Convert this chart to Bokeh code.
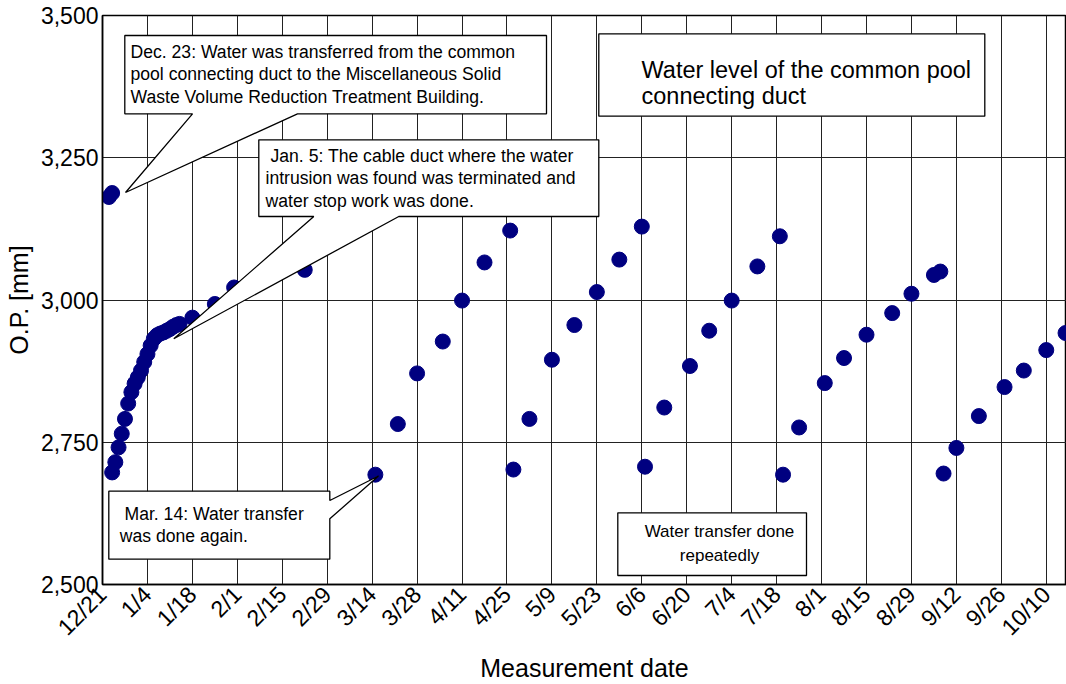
import math
import pandas as pd
from bokeh.plotting import figure
from bokeh.models import Range1d, FixedTicker, NumeralTickFormatter
from bokeh.core.properties import value
from bokeh.embed import file_html
from bokeh.resources import INLINE

# ---------------- data ----------------
base_date = "2011-12-21"

dates = [
    "2011-12-23", "2011-12-24", "2011-12-24", "2011-12-25", "2011-12-26", "2011-12-27",
    "2011-12-28", "2011-12-29", "2011-12-30", "2011-12-31", "2012-01-01", "2012-01-02",
    "2012-01-03", "2012-01-04", "2012-01-05", "2012-01-06", "2012-01-07", "2012-01-08",
    "2012-01-09", "2012-01-10", "2012-01-11", "2012-01-12", "2012-01-13", "2012-01-14",
    "2012-01-18", "2012-01-25", "2012-01-31", "2012-02-22",
    "2012-03-15", "2012-03-22", "2012-03-28", "2012-04-05", "2012-04-11", "2012-04-18",
    "2012-04-26", "2012-04-27", "2012-05-02", "2012-05-09", "2012-05-16", "2012-05-23",
    "2012-05-30", "2012-06-06", "2012-06-07", "2012-06-13", "2012-06-21", "2012-06-27",
    "2012-07-04", "2012-07-12", "2012-07-19", "2012-07-20", "2012-07-25", "2012-08-02",
    "2012-08-08", "2012-08-15", "2012-08-23", "2012-08-29", "2012-09-05", "2012-09-07",
    "2012-09-08", "2012-09-12", "2012-09-19", "2012-09-27", "2012-10-03", "2012-10-10",
    "2012-10-16",
]
levels = [
    3181, 3188, 2697, 2715, 2741, 2765,
    2791, 2818, 2838, 2853, 2864, 2876,
    2891, 2905, 2920, 2932, 2938, 2941,
    2943, 2946, 2949, 2953, 2956, 2958,
    2969, 2993, 3022, 3053,
    2693, 2782, 2871, 2927, 2999, 3066,
    3122, 2702, 2791, 2895, 2956, 3014,
    3071, 3129, 2707, 2811, 2884, 2946,
    2999, 3059, 3112, 2693, 2776, 2854,
    2898, 2939, 2977, 3011, 3044, 3050,
    2695, 2740, 2796, 2847, 2876, 2912,
    2942,
]

tick_days = [0, 14, 28, 42, 56, 70, 84, 98, 112, 126, 140, 154, 168, 182, 196, 210,
             224, 238, 252, 266, 280, 294]
tick_labels = ["12/21", "1/4", "1/18", "2/1", "2/15", "2/29", "3/14", "3/28", "4/11",
               "4/25", "5/9", "5/23", "6/6", "6/20", "7/4", "7/18", "8/1", "8/15",
               "8/29", "9/12", "9/26", "10/10"]
y_ticks = [2500, 2750, 3000, 3250, 3500]

days = list((pd.to_datetime(dates) - pd.Timestamp(base_date)).days)

# ---------------- figure ----------------
FONT = "Liberation Sans"
X_END = 300.3
p = figure(width=1066, height=684, x_range=Range1d(0, X_END), y_range=Range1d(2500, 3500),
           output_backend="svg", toolbar_location=None,
           min_border_left=102, min_border_right=0, min_border_top=15, min_border_bottom=100)
p.background_fill_color = "white"
p.border_fill_color = "white"
p.outline_line_color = "black"
p.outline_line_width = 1.5

p.xaxis.ticker = FixedTicker(ticks=tick_days)
p.xaxis.major_label_overrides = {d: l for d, l in zip(tick_days, tick_labels)}
p.xaxis.major_label_orientation = math.pi / 4
p.yaxis.ticker = FixedTicker(ticks=y_ticks)
p.yaxis.formatter = NumeralTickFormatter(format="0,0")

for ax in (p.xaxis[0], p.yaxis[0]):
    ax.major_tick_line_color = None
    ax.minor_tick_line_color = None
    ax.major_tick_out = 0
    ax.major_tick_in = 0
    ax.axis_line_color = "black"
    ax.axis_line_width = 1.5
    ax.major_label_text_font = FONT
    ax.major_label_text_color = "black"
    ax.axis_label_text_font = FONT
    ax.axis_label_text_font_style = "normal"
    ax.axis_label_text_color = "black"

p.xaxis.major_label_text_font_size = "23px"
p.yaxis.major_label_text_font_size = "23px"
p.xaxis.major_label_standoff = 6
p.yaxis.major_label_standoff = 4
p.xaxis.axis_label = "Measurement date"
p.xaxis.axis_label_text_font_size = "25px"
p.xaxis.axis_label_standoff = 1
p.yaxis.axis_label = "O.P. [mm]"
p.yaxis.axis_label_text_font_size = "25px"
p.yaxis.axis_label_standoff = 5

p.xgrid.grid_line_color = "#222222"
p.xgrid.grid_line_width = 1
p.ygrid.grid_line_color = "#222222"
p.ygrid.grid_line_width = 1

p.scatter(days, levels, size=15, fill_color="#000080", line_color="#000080")

# ---------------- annotations (pixel layout of the reference -> data) ----------------
PX_LEFT, PX_TOP, PX_BOTTOM = 102.0, 15.0, 584.0
PX_PER_DAY = 964.0 / X_END
PX_PER_MM = (PX_BOTTOM - PX_TOP) / 1000.0


def X(px):
    return (px - PX_LEFT) / PX_PER_DAY


def Y(py):
    return 3500 - (py - PX_TOP) / PX_PER_MM


def callout(pts):
    p.patch([X(a) for a, b in pts], [Y(b) for a, b in pts],
            fill_color="white", line_color="black", line_width=1.3)


def texts(items, size, align="left"):
    p.text(x=[X(a) for a, b, t in items], y=[Y(b) for a, b, t in items],
           text=[t for a, b, t in items], text_font=value(FONT), text_font_size=size,
           text_baseline="middle", text_align=align, text_color="black")


NOTE = "17.6px"

# Dec. 23 callout
callout([(124.3, 35), (546, 35), (546, 113.3), (297, 113.3), (125, 192),
         (192, 113.3), (124.3, 113.3)])
texts([(130, 51.5, "Dec. 23: Water was transferred from the common"),
       (130, 73.5, "pool connecting duct to the Miscellaneous Solid"),
       (130, 96, "Waste Volume Reduction Treatment Building.")], NOTE)

# Jan. 5 callout
callout([(258.3, 139.3), (598.3, 139.3), (598.3, 216), (398.3, 216), (173.3, 338.3),
         (313.3, 216), (258.3, 216)])
texts([(270, 155.7, "Jan. 5: The cable duct where the water"),
       (265, 177.5, "intrusion was found was terminated and"),
       (265, 200, "water stop work was done.")], NOTE)

# Mar. 14 callout
callout([(108.3, 490.7), (329.3, 490.7), (329.3, 500), (378, 475.5), (329.3, 518.3),
         (329.3, 558.7), (108.3, 558.7)])
texts([(124, 513.3, "Mar. 14: Water transfer"),
       (119.3, 535, "was done again.")], NOTE)

# title box
callout([(598.3, 33.3), (984.3, 33.3), (984.3, 115.7), (598.3, 115.7)])
texts([(641, 69, "Water level of the common pool"),
       (641, 95, "connecting duct")], "23.5px")

# repeated transfer box
callout([(617.3, 512.3), (806, 512.3), (806, 575), (617.3, 575)])
texts([(719, 531, "Water transfer done"),
       (719, 555, "repeatedly")], "17px", align="center")

open("out.html", "w").write(file_html(p, INLINE))
